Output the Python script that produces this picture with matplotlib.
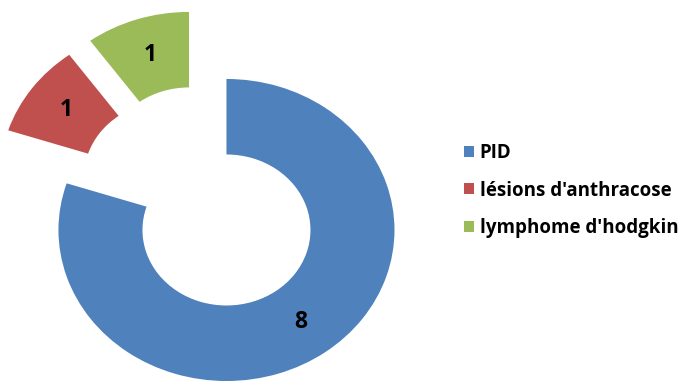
import matplotlib.pyplot as plt
from matplotlib.patches import Patch

# data
labels = ["PID", "lésions d'anthracose", "lymphome d'hodgkin"]
counts = [8, 1, 1]
colors = ["#4F81BD", "#C0504D", "#9BBB59"]

# shift of the pulled-out slices (in radius units)
offsets = [(0.0, 0.0), (-0.348, 0.351), (-0.223, 0.444)]

fig = plt.figure(figsize=(6.91, 3.81), dpi=100)
ax = fig.add_axes([0, 0, 1, 1])

wedges, texts = ax.pie(counts, colors=colors, startangle=90, counterclock=False,
                       radius=1.0, wedgeprops=dict(width=0.5, linewidth=0),
                       labels=[str(c) for c in counts], labeldistance=0.75,
                       textprops=dict(fontsize=16.5, fontweight='bold', color='black',
                                      family='Open Sans', ha='center', va='center'))

# pull out the small slices
for w, t, (dx, dy) in zip(wedges, texts, offsets):
    cx, cy = w.center
    w.set_center((cx + dx, cy + dy))
    x, y = t.get_position()
    t.set_position((x + dx, y + dy))

# stretched layout like the original picture
ax.set_aspect('auto')
ax.set_xlim(-1.348, 2.765)
ax.set_ylim(-1.0, 1.523)
ax.axis('off')

handles = [Patch(facecolor=c, edgecolor='none') for c in colors]
leg = ax.legend(handles, labels, loc='center left', bbox_to_anchor=(0.647, 0.5),
                frameon=False, handlelength=0.54, handleheight=0.54, handletextpad=0.3,
                labelspacing=0.94, prop=dict(family='Open Sans', weight='bold', size=13.5))

fig.savefig("out.png", dpi=100)
